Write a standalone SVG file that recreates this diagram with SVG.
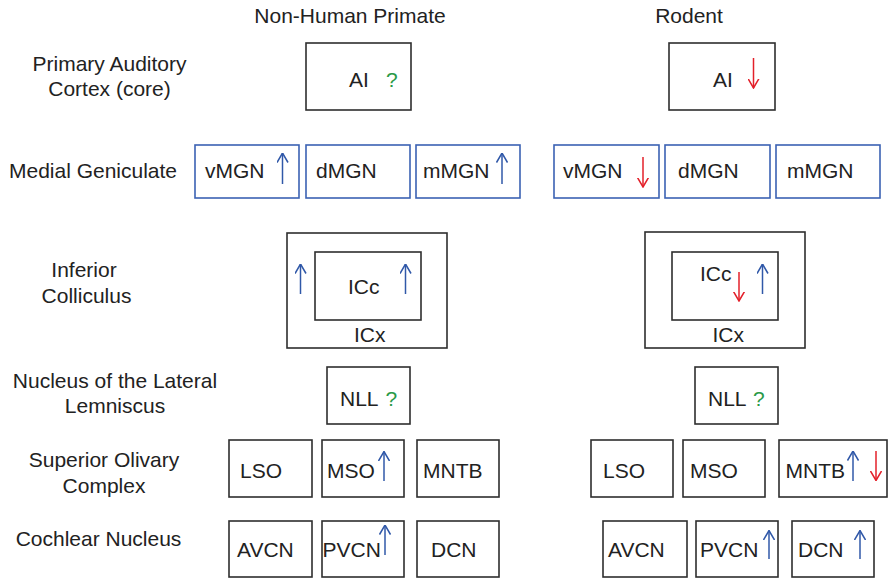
<svg xmlns="http://www.w3.org/2000/svg" width="889" height="578" viewBox="0 0 889 578">
  <style>
    text { font-family: "Liberation Sans", Arial, Helvetica, sans-serif; font-size: 21px; fill: #222; }
    .lbl { text-anchor: middle; }
    .box { fill: #fff; stroke: #2e2e2e; stroke-width: 1.6; }
    .mgn { fill: #fff; stroke: #3b62b3; stroke-width: 1.6; }
    .up { stroke: #3058a8; stroke-width: 1.5; fill: none; marker-end: url(#headBlue); }
    .down { stroke: #e3202a; stroke-width: 1.5; fill: none; marker-end: url(#headRed); }
    .q { fill: #2a9a48; }
  </style>
  <defs>
    <marker id="headBlue" viewBox="0 0 10 12" refX="9.5" refY="6" markerWidth="10" markerHeight="12" markerUnits="userSpaceOnUse" orient="auto">
      <path d="M0,0.5 L9.5,6 L0,11.5" fill="none" stroke="#3058a8" stroke-width="1.5"/>
    </marker>
    <marker id="headRed" viewBox="0 0 10 12" refX="9.5" refY="6" markerWidth="10" markerHeight="12" markerUnits="userSpaceOnUse" orient="auto">
      <path d="M0,0.5 L9.5,6 L0,11.5" fill="none" stroke="#e3202a" stroke-width="1.5"/>
    </marker>
  </defs>

  <!-- column headings -->
  <g id="headings">
    <text class="lbl" x="350" y="23">Non-Human Primate</text>
    <text class="lbl" x="689" y="23">Rodent</text>
  </g>

  <!-- row labels -->
  <g id="row-labels">
    <text class="lbl" x="109.5" y="70.5">Primary Auditory</text>
    <text class="lbl" x="109.5" y="95.5">Cortex (core)</text>
    <text class="lbl" x="93" y="178">Medial Geniculate</text>
    <text class="lbl" x="84" y="277">Inferior</text>
    <text class="lbl" x="86.5" y="303">Colliculus</text>
    <text class="lbl" x="115" y="388">Nucleus of the Lateral</text>
    <text class="lbl" x="115" y="413">Lemniscus</text>
    <text class="lbl" x="104" y="467">Superior Olivary</text>
    <text class="lbl" x="104" y="493">Complex</text>
    <text class="lbl" x="98.5" y="546">Cochlear Nucleus</text>
  </g>

  <!-- primate column -->
  <g id="p-ai">
    <rect class="box" x="306" y="43" width="105" height="67"/>
    <text x="349" y="87">AI</text>
    <text class="q" x="386" y="87">?</text>
  </g>
  <g id="p-vmgn">
    <rect class="mgn" x="195" y="145" width="104" height="53"/>
    <text x="205" y="178">vMGN</text>
    <line class="up" x1="282.5" y1="184" x2="282.5" y2="153"/>
  </g>
  <g id="p-dmgn">
    <rect class="mgn" x="306" y="145" width="104" height="53"/>
    <text x="316" y="178">dMGN</text>
  </g>
  <g id="p-mmgn">
    <rect class="mgn" x="416" y="145" width="104" height="53"/>
    <text x="423" y="178">mMGN</text>
    <line class="up" x1="502" y1="184" x2="502" y2="153"/>
  </g>
  <g id="p-icx">
    <rect class="box" x="287" y="233" width="160" height="115"/>
    <text x="354" y="342">ICx</text>
    <line class="up" x1="300.5" y1="294" x2="300.5" y2="264"/>
  </g>
  <g id="p-icc">
    <rect class="box" x="315" y="252" width="106" height="68"/>
    <text x="348" y="294">ICc</text>
    <line class="up" x1="405.5" y1="294" x2="405.5" y2="264"/>
  </g>
  <g id="p-nll">
    <rect class="box" x="327" y="367" width="83" height="57"/>
    <text x="340" y="406">NLL</text>
    <text class="q" x="385.5" y="406">?</text>
  </g>
  <g id="p-lso">
    <rect class="box" x="229" y="440" width="83" height="57"/>
    <text x="240" y="478">LSO</text>
  </g>
  <g id="p-mso">
    <rect class="box" x="322" y="440" width="82" height="57"/>
    <text x="327" y="478">MSO</text>
    <line class="up" x1="384" y1="481" x2="384" y2="451.5"/>
  </g>
  <g id="p-mntb">
    <rect class="box" x="417" y="440" width="82" height="57"/>
    <text x="423" y="478">MNTB</text>
  </g>
  <g id="p-avcn">
    <rect class="box" x="229" y="521" width="83" height="56"/>
    <text x="237" y="557">AVCN</text>
  </g>
  <g id="p-pvcn">
    <rect class="box" x="322" y="521" width="82" height="56"/>
    <text x="322.5" y="557">PVCN</text>
    <line class="up" x1="385" y1="555" x2="385" y2="525"/>
  </g>
  <g id="p-dcn">
    <rect class="box" x="417" y="521" width="82" height="56"/>
    <text x="431" y="557">DCN</text>
  </g>

  <!-- rodent column -->
  <g id="r-ai">
    <rect class="box" x="669" y="43" width="106" height="67"/>
    <text x="713" y="87">AI</text>
    <line class="down" x1="753.5" y1="58" x2="753.5" y2="88"/>
  </g>
  <g id="r-vmgn">
    <rect class="mgn" x="554" y="145" width="105" height="53"/>
    <text x="563" y="178">vMGN</text>
    <line class="down" x1="643" y1="157" x2="643" y2="187"/>
  </g>
  <g id="r-dmgn">
    <rect class="mgn" x="665" y="145" width="105" height="53"/>
    <text x="678" y="178">dMGN</text>
  </g>
  <g id="r-mmgn">
    <rect class="mgn" x="776" y="145" width="104" height="53"/>
    <text x="787" y="178">mMGN</text>
  </g>
  <g id="r-icx">
    <rect class="box" x="645" y="232" width="160" height="116"/>
    <text x="712.5" y="342">ICx</text>
  </g>
  <g id="r-icc">
    <rect class="box" x="672" y="252" width="106" height="68"/>
    <text x="700" y="281">ICc</text>
    <line class="down" x1="739" y1="272" x2="739" y2="301"/>
    <line class="up" x1="762.5" y1="294" x2="762.5" y2="264"/>
  </g>
  <g id="r-nll">
    <rect class="box" x="695" y="367" width="83" height="57"/>
    <text x="708" y="406">NLL</text>
    <text class="q" x="753" y="406">?</text>
  </g>
  <g id="r-lso">
    <rect class="box" x="591" y="440" width="82" height="57"/>
    <text x="603" y="478">LSO</text>
  </g>
  <g id="r-mso">
    <rect class="box" x="683" y="440" width="82" height="57"/>
    <text x="690" y="478">MSO</text>
  </g>
  <g id="r-mntb">
    <rect class="box" x="779" y="440" width="108" height="57"/>
    <text x="785.5" y="478">MNTB</text>
    <line class="up" x1="853" y1="481" x2="853" y2="451"/>
    <line class="down" x1="876" y1="451" x2="876" y2="480.5"/>
  </g>
  <g id="r-avcn">
    <rect class="box" x="603" y="521" width="84" height="56"/>
    <text x="608" y="557">AVCN</text>
  </g>
  <g id="r-pvcn">
    <rect class="box" x="696" y="521" width="82" height="56"/>
    <text x="700" y="557">PVCN</text>
    <line class="up" x1="769" y1="559" x2="769" y2="530.5"/>
  </g>
  <g id="r-dcn">
    <rect class="box" x="792" y="521" width="82" height="56"/>
    <text x="798" y="557">DCN</text>
    <line class="up" x1="860" y1="559" x2="860" y2="530.5"/>
  </g>
</svg>
